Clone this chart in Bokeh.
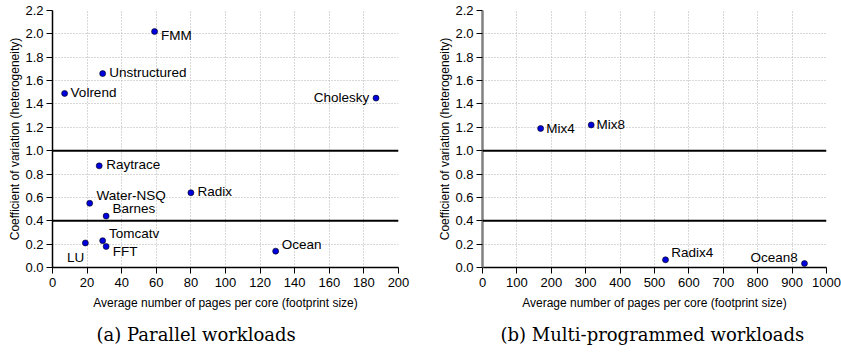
from bokeh.plotting import figure
from bokeh.models import ColumnDataSource, Span, FixedTicker, PrintfTickFormatter, Title, Range1d
from bokeh.layouts import row
from bokeh.embed import file_html
from bokeh.resources import INLINE
from bokeh.core.properties import value

# ---- data: parallel workloads ----
par_names = ["FMM", "Unstructured", "Volrend", "Cholesky", "Raytrace", "Water-NSQ",
             "Radix", "Barnes", "Tomcatv", "LU", "FFT", "Ocean"]
par_pages = [59, 29, 7, 187, 27, 21.5, 80, 31, 29, 19, 31, 129]
par_cov = [2.02, 1.66, 1.49, 1.45, 0.87, 0.55, 0.64, 0.44, 0.23, 0.21, 0.18, 0.14]

# ---- data: multi-programmed workloads ----
mp_names = ["Mix4", "Mix8", "Radix4", "Ocean8"]
mp_pages = [169, 316, 532, 936]
mp_cov = [1.19, 1.22, 0.066, 0.034]

y_ticks = [0.0, 0.2, 0.4, 0.6, 0.8, 1.0, 1.2, 1.4, 1.6, 1.8, 2.0, 2.2]
par_x_ticks = [0, 20, 40, 60, 80, 100, 120, 140, 160, 180, 200]
mp_x_ticks = [0, 100, 200, 300, 400, 500, 600, 700, 800, 900, 1000]
thresholds = [1.0, 0.4]

# label placement (layout only)
par_dx = [6.5, 6.6, 6, -6.7, 7, 6.7, 6.6, 6.3, 6.3, -1, 6.6, 6]
par_dy = [4, -1, -1, -1, -1, -7.7, -1, -7.7, -7.6, 14.3, 4.7, -7]
par_align = ["left", "left", "left", "right", "left", "left", "left", "left", "left", "right", "left", "left"]
mp_dx = [5.7, 5.3, 5.7, -6.7]
mp_dy = [0.5, -0.7, -7.3, -6.4]
mp_align = ["left", "left", "left", "right"]

SANS = "Liberation Sans"
SERIF = "DejaVu Serif"


def make_plot(names, xs, ys, dx, dy, align, xticks, xmax, caption, width,
              border_left, border_right, cap_offset, yaxis_color, yaxis_width):
    p = figure(width=width, height=354, output_backend="svg", toolbar_location=None,
               x_range=Range1d(0, xmax), y_range=Range1d(0, 2.2),
               min_border_left=border_left, min_border_right=border_right,
               min_border_top=10, min_border_bottom=86)
    p.outline_line_color = None
    p.background_fill_color = "white"
    p.border_fill_color = "white"

    p.xaxis.ticker = FixedTicker(ticks=xticks, minor_ticks=[])
    p.yaxis.ticker = FixedTicker(ticks=y_ticks, minor_ticks=[])
    p.yaxis.formatter = PrintfTickFormatter(format="%.1f")
    for ax in (p.xaxis, p.yaxis):
        ax.major_tick_in = 0
        ax.major_tick_out = 6
        ax.major_tick_line_color = "black"
        ax.major_tick_line_width = 1
        ax.major_label_text_font = SANS
        ax.major_label_text_font_size = "13px"
        ax.major_label_text_color = "black"
        ax.axis_label_text_font = SANS
        ax.axis_label_text_font_size = "12px"
        ax.axis_label_text_font_style = "normal"
        ax.axis_label_text_color = "black"
    p.xaxis.axis_line_color = "black"
    p.xaxis.axis_line_width = 1.5
    p.yaxis.axis_line_color = yaxis_color
    p.yaxis.axis_line_width = yaxis_width
    p.xaxis.major_label_standoff = 4
    p.yaxis.major_label_standoff = 3
    p.xaxis.axis_label = "Average number of pages per core (footprint size)"
    p.yaxis.axis_label = "Coefficient of variation (heterogeneity)"
    p.xaxis.axis_label_standoff = 6
    p.yaxis.axis_label_standoff = 0

    for g in (p.xgrid, p.ygrid):
        g.grid_line_color = "#b0b0b0"
        g.grid_line_dash = "1 2"
        g.grid_line_width = 1

    for t in thresholds:
        p.add_layout(Span(location=t, dimension="width", line_color="black", line_width=2))

    src = ColumnDataSource(dict(x=xs, y=ys, name=names, dx=dx, dy=dy, align=align))
    p.scatter("x", "y", source=src, size=6, fill_color="#0000dd", line_color="black", line_width=0.6)
    p.text("x", "y", text="name", source=src, x_offset="dx", y_offset="dy",
           text_align="align", text_baseline="middle",
           text_font=value(SANS), text_font_size="13.5px", text_color="black")

    p.add_layout(Title(text=caption, align="left", offset=cap_offset, standoff=19,
                       text_font=SERIF, text_font_size="18px", text_font_style="normal",
                       text_color="black"), "below")
    return p


p1 = make_plot(par_names, par_pages, par_cov, par_dx, par_dy, par_align, par_x_ticks, 200,
               "(a) Parallel workloads", 420, 52, 22, 44, "black", 1.5)
p2 = make_plot(mp_names, mp_pages, mp_cov, mp_dx, mp_dy, mp_align, mp_x_ticks, 1000,
               "(b) Multi-programmed workloads", 421, 62, 15, 18, "#808080", 2.5)

layout = row(p1, p2)
open("out.html", "w").write(file_html(layout, INLINE))
